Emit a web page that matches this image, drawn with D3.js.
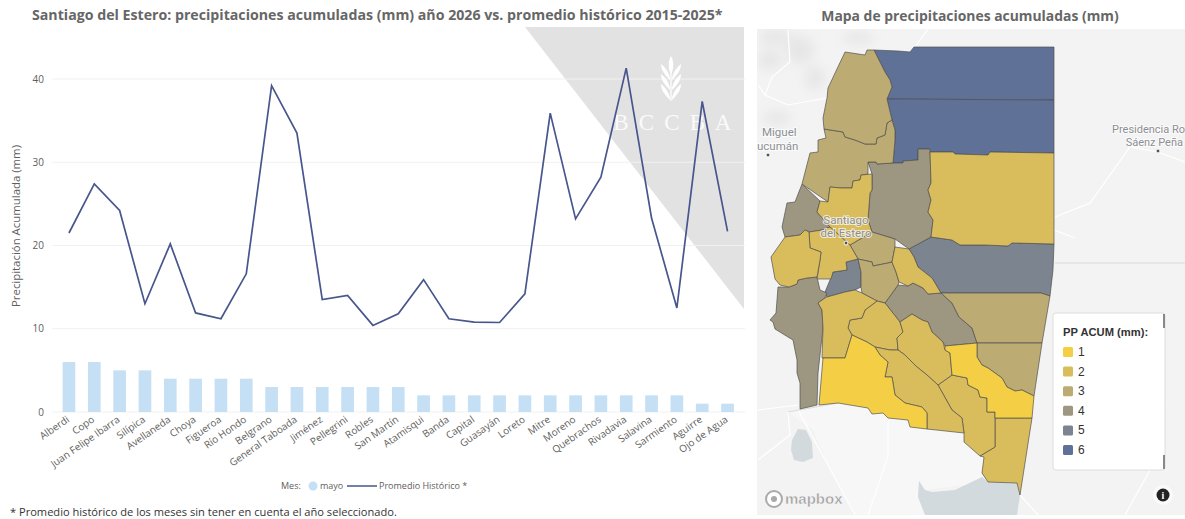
<!DOCTYPE html>
<html><head><meta charset="utf-8">
<script src="https://cdn.jsdelivr.net/npm/d3@7"></script>
<style>html,body{margin:0;padding:0;background:#fff}svg{display:block}text{font-family:"Open Sans",sans-serif}</style>
</head><body><svg id="c" width="1185" height="519"></svg>
<script>
const departments=["Alberdi","Copo","Juan Felipe Ibarra","Silípica","Avellaneda","Choya","Figueroa","Río Hondo","Belgrano","General Taboada","Jiménez","Pellegrini","Robles","San Martín","Atamisqui","Banda","Capital","Guasayán","Loreto","Mitre","Moreno","Quebrachos","Rivadavia","Salavina","Sarmiento","Aguirre","Ojo de Agua"];
const mayo=[6,6,5,5,4,4,4,4,3,3,3,3,3,3,2,2,2,2,2,2,2,2,2,2,2,1,1];
const historico=[21.5,27.4,24.2,13,20.2,11.9,11.2,16.6,39.2,33.5,13.5,14,10.4,11.8,15.9,11.2,10.8,10.75,14.2,35.9,23.2,28.2,41.3,23.3,12.5,37.3,21.7];
const yTicks=[0,10,20,30,40];
const legendLevels=[1,2,3,4,5,6];
const levelColors=["#f4cf45","#d9bc5c","#bcab72","#9d9680","#7c8490","#5f7196"];
const outlines={
"Alberdi":[[874,50],[898,51],[910,52],[914,47],[1054,47],[1054,100],[887,99],[892,87],[890,80],[885,72],[880,62],[876,55]],
"Copo":[[887,99],[1054,100],[1054,153],[990,152],[988,155],[955,154],[953,152],[930,152],[929,149],[918,149],[918,160],[903,161],[903,163],[893,163],[895,140],[895,130],[892,120]],
"Pellegrini":[[867,50],[874,50],[880,62],[885,72],[890,80],[892,87],[887,99],[892,120],[887,123],[885,135],[877,138],[876,144],[865,144],[855,140],[845,137],[843,132],[824,129],[823,118],[827,98],[828,88],[845,52],[865,55]],
"Jiménez":[[824,129],[843,132],[845,137],[855,140],[865,144],[876,144],[877,138],[885,135],[887,123],[892,120],[895,130],[895,140],[893,163],[877,164],[876,162],[868,162],[868,174],[861,175],[860,180],[853,181],[852,188],[841,188],[830,187],[828,202],[802,184],[810,153],[818,152],[818,140],[826,138]],
"Figueroa":[[868,162],[876,162],[877,164],[893,163],[903,163],[903,161],[918,160],[918,149],[930,149],[931,183],[928,190],[931,200],[928,212],[933,220],[931,237],[909,249],[895,239],[872,232],[868,220],[870,193],[872,190],[872,174]],
"Moreno":[[930,152],[953,152],[955,154],[988,155],[990,152],[1054,153],[1054,244],[1012,243],[1008,246],[985,245],[960,245],[952,240],[931,237],[933,220],[928,212],[931,200],[928,190],[931,183]],
"Juan Felipe Ibarra":[[909,249],[931,237],[952,240],[960,245],[985,245],[1008,246],[1012,243],[1054,244],[1053,270],[1050,296],[1041,293],[941,293],[932,278],[918,267],[914,257]],
"Quebrachos":[[895,247],[909,249],[914,257],[918,267],[932,278],[941,293],[928,294],[923,288],[913,283],[908,286],[899,282],[896,272],[892,262]],
"Río Hondo":[[802,184],[820,201],[817,212],[830,227],[822,230],[810,232],[805,230],[800,235],[785,237],[782,227],[787,203],[795,202]],
"Banda":[[830,187],[841,188],[852,188],[853,181],[860,180],[861,175],[872,174],[872,190],[870,193],[868,220],[872,232],[850,245],[830,227],[817,212],[820,201],[828,202]],
"Capital":[[809,232],[822,230],[830,227],[850,245],[858,259],[846,262],[847,270],[833,272],[831,279],[817,279],[820,260],[821,252],[810,248]],
"Guasayán":[[785,237],[800,235],[805,230],[809,232],[810,248],[821,252],[820,260],[817,277],[807,278],[798,280],[797,284],[789,287],[780,285],[775,279],[771,257]],
"Choya":[[778,287],[789,287],[797,284],[798,280],[807,278],[817,277],[820,290],[827,293],[825,298],[818,303],[822,310],[823,328],[818,373],[817,405],[800,409],[800,383],[797,373],[797,360],[793,340],[788,337],[775,329],[773,322],[770,320],[776,313]],
"Silípica":[[846,262],[858,259],[861,272],[861,287],[855,290],[845,292],[827,297],[825,292],[830,280],[833,272],[847,270]],
"Robles":[[850,245],[872,232],[895,239],[895,247],[892,262],[888,263],[873,266],[872,262],[858,259]],
"San Martín":[[858,259],[872,262],[873,266],[888,263],[892,262],[896,272],[899,282],[898,285],[885,303],[877,301],[862,293],[861,287],[861,272]],
"Avellaneda":[[885,303],[898,285],[908,286],[913,283],[923,288],[928,294],[941,293],[952,303],[959,317],[972,328],[977,343],[945,346],[943,342],[932,332],[928,322],[922,320],[912,314],[900,322]],
"Belgrano":[[941,293],[1041,293],[1050,296],[1042,343],[977,343],[972,328],[959,317],[952,303]],
"General Taboada":[[977,343],[1042,343],[1034,396],[1022,390],[1015,391],[1007,387],[1002,378],[988,368],[982,365],[977,357]],
"Aguirre":[[945,346],[977,343],[977,357],[982,365],[988,368],[1002,378],[1007,387],[1015,391],[1022,390],[1034,396],[1032,418],[995,418],[995,412],[987,412],[987,398],[980,397],[978,390],[968,385],[967,378],[957,376],[952,375],[950,353],[945,350]],
"Loreto":[[818,303],[825,298],[827,297],[845,292],[855,290],[862,293],[877,301],[865,310],[862,318],[850,320],[848,328],[852,335],[845,358],[822,358],[823,328],[822,310]],
"Atamisqui":[[877,301],[885,303],[900,322],[903,332],[897,338],[898,350],[890,350],[875,347],[867,342],[852,335],[848,328],[850,320],[862,318],[865,310]],
"Salavina":[[900,322],[912,314],[922,320],[928,322],[932,332],[943,342],[945,350],[950,353],[952,375],[938,385],[927,375],[917,367],[905,355],[898,350],[897,338],[903,332]],
"Ojo de Agua":[[852,335],[867,342],[875,347],[880,355],[888,362],[885,377],[892,377],[895,395],[905,403],[922,407],[927,413],[927,429],[910,427],[908,420],[888,418],[883,413],[872,414],[868,408],[838,403],[819,405],[823,358],[845,358]],
"Sarmiento":[[875,347],[890,350],[898,350],[905,355],[917,367],[927,375],[938,385],[952,410],[962,418],[964,433],[927,429],[927,413],[922,407],[905,403],[895,395],[892,377],[885,377],[888,362],[880,355]],
"Rivadavia":[[938,385],[952,375],[957,376],[967,378],[968,385],[978,390],[980,397],[987,398],[987,412],[995,412],[995,447],[980,456],[964,442],[964,433],[962,418],[952,410]],
"Mitre":[[995,418],[1032,418],[1020,495],[1017,483],[988,482],[982,473],[984,457],[980,456],[995,447]]
};
const baseRoads=[[[758,85],[765,95],[788,105],[827,98]],[[788,30],[790,62],[772,77],[765,95]],[[915,47],[928,29]],[[1185,162],[1158,152],[1130,147],[1090,203],[1055,217]],[[758,410],[798,405]],[[788,412],[790,435],[758,460]],[[798,410],[855,515]],[[888,420],[888,456],[868,515]],[[1020,495],[1038,515]],[[1165,400],[1150,470],[1125,515]],[[1054,230],[1075,238]]];
const provinceBorders=[[[1055,263],[1185,263]],[[788,412],[838,403]]];
const lakes=[[[792,440],[798,429],[806,430],[812,442],[813,458],[803,462],[794,460],[791,450]],[[919,481],[925,490],[932,492],[955,490],[982,477],[988,482],[1017,483],[1020,495],[1017,515],[925,515],[918,497]]];
const southLand=[[788,412],[838,403],[868,408],[927,429],[964,433],[980,456],[984,457],[982,473],[988,482],[925,490],[919,481],[918,497],[925,515],[855,515],[830,470],[813,430]];
const hills=[[775,37,16,8],[800,50,14,14],[770,60,12,10],[815,78,10,12],[777,118,14,7],[858,38,16,6]];

const svg=d3.select("#c");
const ink="#605e5c";
/* ---- left chart ---- */
const x=d3.scaleBand().domain(departments).range([56.3,740.2]).paddingInner(0.5).paddingOuter(0.25);
const y=d3.scaleLinear().domain([0,40]).range([412,79]);
svg.append("text").attr("x",32).attr("y",20).attr("font-size",14.18).attr("font-weight",700).attr("fill","#666").text("Santiago del Estero: precipitaciones acumuladas (mm) año 2026 vs. promedio histórico 2015-2025*");
const wm=d3.line();
svg.append("path").attr("d",wm([[525,27],[744,27],[744,309]])+"Z").attr("fill","#e3e2e3");
svg.append("g").selectAll("line").data(yTicks).join("line").attr("x1",52).attr("x2",745).attr("y1",d=>y(d)).attr("y2",d=>y(d)).attr("stroke","#f1f1f1").attr("stroke-width",1);
/* wheat watermark */
const wheat=svg.append("g").attr("transform","translate(671,56)").attr("fill","#fff");
wheat.append("path").attr("d","M0,0C3,5 3,12 0,19C-3,12 -3,5 0,0Z");
[8,18,28].forEach(dy=>{[-1,1].forEach(s=>{wheat.append("path").attr("d",`M${s*1.2},${dy+13}C${s*3},${dy+7} ${s*6},${dy+3} ${s*10},${dy}C${s*10},${dy+6} ${s*6},${dy+11} ${s*1.2},${dy+16}Z`);});});
wheat.append("rect").attr("x",-.6).attr("y",18).attr("width",1.2).attr("height",27);
svg.append("g").selectAll("text").data(["B","C","C","B","A"]).join("text").attr("x",(d,i)=>621+i*25.5).attr("y",130).attr("text-anchor","middle").attr("font-size",23).attr("fill","#fff").attr("fill-opacity",.85).style("font-family","'Liberation Serif',serif").text(d=>d);
svg.append("g").selectAll("text").data(yTicks).join("text").attr("x",44).attr("y",d=>y(d)+3.5).attr("text-anchor","end").attr("font-size",10).attr("fill",ink).text(d=>d);
svg.append("text").attr("transform","translate(20,226) rotate(-90)").attr("text-anchor","middle").attr("font-size",11.4).attr("fill",ink).text("Precipitación Acumulada (mm)");
svg.append("g").selectAll("rect").data(departments).join("rect").attr("x",d=>x(d)).attr("width",x.bandwidth()).attr("y",(d,i)=>y(mayo[i])).attr("height",(d,i)=>y(0)-y(mayo[i])).attr("fill","#c5dff4");
svg.append("path").attr("d",d3.line().x((d,i)=>x(departments[i])+x.bandwidth()/2).y(d=>y(d))(historico)).attr("fill","none").attr("stroke","#47568c").attr("stroke-width",1.7);
svg.append("g").selectAll("text").data(departments).join("text").attr("transform",d=>`translate(${x(d)+x.bandwidth()/2+1},${421}) rotate(-35)`).attr("text-anchor","end").attr("font-size",10).attr("fill",ink).text(d=>d);
svg.append("text").attr("x",281).attr("y",489).attr("font-size",9).attr("fill",ink).text("Mes:");
svg.append("circle").attr("cx",313).attr("cy",486).attr("r",4.5).attr("fill","#c5dff4");
svg.append("text").attr("x",320).attr("y",489).attr("font-size",9).attr("fill",ink).text("mayo");
svg.append("line").attr("x1",347).attr("x2",377).attr("y1",486).attr("y2",486).attr("stroke","#47568c").attr("stroke-width",1.5);
svg.append("text").attr("x",379).attr("y",489).attr("font-size",9).attr("fill",ink).text("Promedio Histórico *");
svg.append("text").attr("x",10).attr("y",516).attr("font-size",11.1).attr("fill","#333").text("* Promedio histórico de los meses sin tener en cuenta el año seleccionado.");
/* ---- map ---- */
svg.append("text").attr("x",970).attr("y",21).attr("text-anchor","middle").attr("font-size",13.9).attr("font-weight",700).attr("fill","#666").text("Mapa de precipitaciones acumuladas (mm)");
const defs=svg.append("defs");
defs.append("clipPath").attr("id","mapclip").append("rect").attr("x",757).attr("y",29).attr("width",428).attr("height",486);
defs.append("filter").attr("id","soft").append("feGaussianBlur").attr("stdDeviation",6);
const map=svg.append("g").attr("clip-path","url(#mapclip)");
map.append("rect").attr("x",757).attr("y",29).attr("width",428).attr("height",486).attr("fill","#f3f3f3");
const geo=d3.geoPath(d3.geoIdentity());
const poly=r=>geo({type:"Polygon",coordinates:[[...r,r[0]]]});
const lineGeo=r=>geo({type:"LineString",coordinates:r});
map.append("path").attr("d",poly(southLand)).attr("fill","#f7f7f7");
map.append("g").attr("filter","url(#soft)").selectAll("ellipse").data(hills).join("ellipse").attr("cx",d=>d[0]).attr("cy",d=>d[1]).attr("rx",d=>d[2]).attr("ry",d=>d[3]).attr("fill","#e6e6e6");
map.append("g").selectAll("path").data(baseRoads).join("path").attr("d",lineGeo).attr("fill","none").attr("stroke","#fff").attr("stroke-width",1.2);
map.append("g").selectAll("path").data(provinceBorders).join("path").attr("d",lineGeo).attr("fill","none").attr("stroke","#dcdcdc").attr("stroke-width",1.2);
map.append("g").selectAll("path").data(lakes).join("path").attr("d",poly).attr("fill","#d2dadd");
map.append("g").selectAll("path").data(departments).join("path").attr("d",d=>poly(outlines[d])).attr("fill",(d,i)=>levelColors[mayo[i]-1]).attr("stroke","#4d4d4d").attr("stroke-opacity",.85).attr("stroke-width",.8).attr("stroke-linejoin","round");
const label=(t,px,py,a,s)=>map.append("text").attr("x",px).attr("y",py).attr("text-anchor",a).attr("font-size",s).attr("fill","#8b8f94").attr("stroke","#fff").attr("stroke-width",2).attr("stroke-opacity",.7).attr("paint-order","stroke").style("font-family","Roboto,sans-serif").text(t);
label("Miguel",762,136,"start",11.5); label("ucumán",757,150,"start",11.5);
label("Santiago",846,224,"middle",11.5); label("del Estero",846,237,"middle",11.5);
label("Presidencia Ro",1112,133,"start",11); label("Sáenz Peña",1183,146,"end",11);
[[768,155],[846,243],[1158,151]].forEach(p=>map.append("circle").attr("cx",p[0]).attr("cy",p[1]).attr("r",2).attr("fill","#555").attr("stroke","#fff"));
/* legend */
const lg=svg.append("g");
lg.append("rect").attr("x",1053).attr("y",313).attr("width",112).attr("height",157).attr("rx",3).attr("fill","#fff").attr("stroke","#ddd");
lg.append("rect").attr("x",1163).attr("y",314).attr("width",2).attr("height",14).attr("fill","#888");
lg.append("rect").attr("x",1163).attr("y",455).attr("width",2).attr("height",14).attr("fill","#888");
lg.append("text").attr("x",1063).attr("y",336).attr("font-size",11.2).attr("font-weight",700).attr("fill","#333").style("font-family","'Liberation Sans',sans-serif").text("PP ACUM (mm):");
const ly=d3.scalePoint().domain(legendLevels).range([352,450]);
lg.selectAll("rect.k").data(legendLevels).join("rect").attr("class","k").attr("x",1063).attr("y",d=>ly(d)-5).attr("width",10).attr("height",10).attr("rx",1.5).attr("fill",d=>levelColors[d-1]);
lg.selectAll("text.k").data(legendLevels).join("text").attr("class","k").attr("x",1078).attr("y",d=>ly(d)+4).attr("font-size",12).attr("fill","#333").style("font-family","'Liberation Sans',sans-serif").text(d=>d);
/* mapbox mark and info */
const mb=map.append("g");
mb.append("circle").attr("cx",774).attr("cy",499).attr("r",8).attr("fill","#fff").attr("stroke","#aaa").attr("stroke-width",2);
mb.append("circle").attr("cx",774).attr("cy",499).attr("r",3).attr("fill","#aaa");
mb.append("text").attr("x",785).attr("y",504).attr("font-size",15).attr("font-weight",700).attr("fill","#9d9d9d").attr("stroke","#fff").attr("stroke-width",.4).style("font-family","'Liberation Sans',sans-serif").text("mapbox");
map.append("circle").attr("cx",1163).attr("cy",495).attr("r",10).attr("fill","#fff").attr("fill-opacity",.6);
map.append("circle").attr("cx",1163).attr("cy",495).attr("r",6.5).attr("fill","#222");
map.append("text").attr("x",1163).attr("y",499).attr("text-anchor","middle").attr("font-size",10).attr("font-weight",700).attr("fill","#fff").style("font-family","'Liberation Serif',serif").text("i");
</script></body></html>
